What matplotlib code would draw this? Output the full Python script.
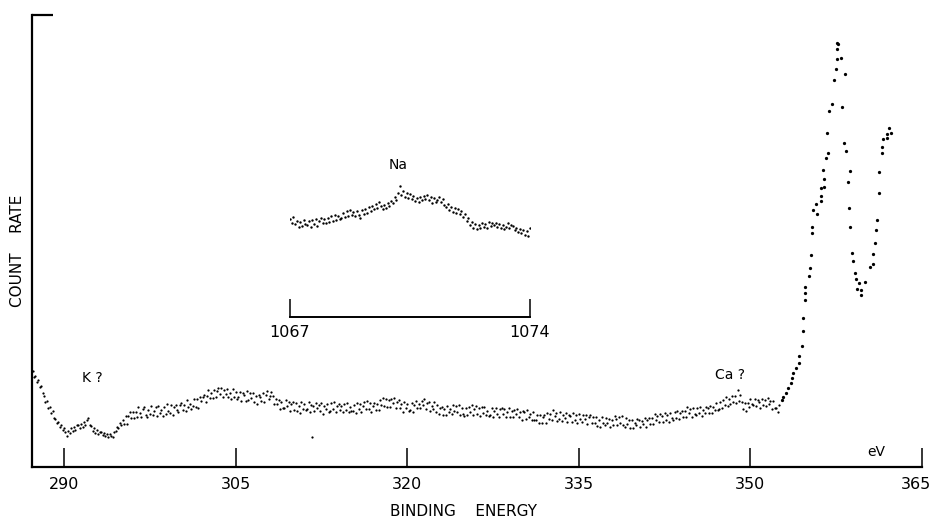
import numpy as np
import matplotlib.pyplot as plt
from matplotlib.transforms import ScaledTranslation

# --- main survey scan: channel grid + counts (arbitrary units) ---
MAIN_START = 287.25
MAIN_STEP = 0.125
MAIN_COUNTS = [
    96, 90, 91, 85, 87, 80, 81, 74,
    71, 65, 66, 59, 60, 54, 56, 49,
    48, 44, 45, 40, 42, 37, 39, 35,
    31, 36, 34, 39, 36, 40, 37, 42,
    42, 39, 43, 40, 45, 42, 47, 49,
    42, 41, 36, 39, 34, 37, 33, 35,
    35, 32, 34, 31, 33, 30, 33, 31,
    30, 35, 36, 40, 39, 44, 42, 47,
    43, 51, 43, 51, 55, 49, 55, 49,
    55, 50, 60, 54, 50, 58, 60, 52,
    50, 57, 53, 61, 52, 56, 60, 51,
    61, 54, 57, 51, 60, 53, 63, 56,
    54, 62, 52, 60, 62, 57, 55, 62,
    64, 57, 62, 56, 67, 60, 63, 58,
    61, 68, 60, 68, 59, 70, 66, 70,
    72, 65, 71, 77, 69, 74, 69, 77,
    70, 76, 79, 73, 79, 70, 77, 73,
    78, 70, 74, 68, 78, 70, 75, 68,
    70, 75, 66, 74, 72, 66, 76, 67,
    74, 69, 74, 65, 71, 63, 72, 70,
    66, 74, 65, 72, 76, 68, 71, 75,
    71, 63, 68, 63, 67, 58, 65, 59,
    59, 67, 61, 65, 56, 63, 65, 57,
    64, 56, 61, 54, 65, 58, 63, 57,
    58, 65, 55, 62, 61, 56, 64, 59,
    62, 56, 64, 53, 61, 58, 63, 55,
    56, 64, 58, 65, 55, 61, 63, 57,
    61, 55, 63, 57, 64, 55, 60, 56,
    56, 62, 54, 64, 58, 63, 55, 61,
    65, 58, 66, 58, 64, 55, 61, 64,
    57, 63, 57, 67, 62, 69, 61, 68,
    60, 67, 60, 68, 64, 69, 59, 65,
    67, 59, 63, 55, 65, 59, 63, 56,
    57, 64, 55, 62, 66, 59, 63, 59,
    66, 62, 68, 58, 64, 65, 56, 61,
    58, 65, 55, 62, 53, 59, 60, 52,
    58, 52, 61, 55, 58, 53, 62, 56,
    61, 55, 62, 52, 59, 53, 51, 59,
    52, 60, 55, 62, 52, 58, 61, 53,
    59, 51, 60, 54, 60, 52, 56, 51,
    52, 59, 50, 56, 59, 53, 50, 58,
    59, 53, 58, 50, 55, 59, 50, 56,
    50, 57, 53, 58, 50, 55, 47, 56,
    55, 48, 57, 50, 53, 47, 55, 47,
    47, 52, 44, 52, 44, 50, 52, 44,
    54, 48, 53, 47, 57, 51, 54, 46,
    48, 55, 46, 52, 49, 54, 45, 52,
    51, 45, 54, 47, 52, 44, 53, 48,
    45, 52, 48, 52, 43, 50, 52, 44,
    50, 44, 50, 41, 47, 40, 50, 44,
    42, 49, 44, 48, 40, 47, 42, 51,
    48, 42, 50, 44, 51, 42, 40, 49,
    43, 47, 39, 47, 39, 44, 42, 48,
    47, 40, 46, 43, 49, 40, 47, 49,
    43, 49, 43, 53, 47, 51, 45, 53,
    51, 45, 54, 47, 52, 45, 54, 49,
    47, 55, 49, 56, 48, 54, 56, 50,
    56, 50, 60, 54, 58, 50, 59, 53,
    52, 59, 54, 60, 51, 57, 54, 60,
    59, 54, 61, 54, 60, 57, 64, 57,
    58, 65, 59, 67, 62, 70, 61, 68,
    63, 71, 65, 71, 64, 77, 66, 72,
    65, 58, 64, 56, 64, 60, 68, 63,
    62, 68, 61, 67, 65, 59, 68, 62,
    67, 61, 69, 63, 66, 58, 66, 59,
    59, 55, 62,
]

# --- edge / peak region, read point by point (not monotonic in energy) ---
PEAK_ENERGY = [
    352.74, 352.88, 353.11, 353.31, 353.52, 353.64, 353.75, 353.99, 354.25, 354.27,
    354.51, 354.62, 354.62, 354.75, 354.77, 354.80, 355.10, 355.24, 355.30, 355.38,
    355.41, 355.47, 355.80, 355.73, 356.17, 356.17, 356.20, 356.46, 356.43, 356.37,
    356.58, 356.81, 356.72, 356.84, 357.11, 357.34, 357.48, 357.55, 357.60, 357.60,
    357.69, 357.93, 358.28, 358.04, 358.21, 358.36, 358.71, 358.53, 358.62, 358.73,
    358.88, 358.97, 359.17, 359.26, 359.52, 359.29, 359.64, 359.69, 359.99, 360.43,
    360.69, 360.72, 360.89, 360.98, 361.09, 361.22, 361.27, 361.48, 361.53, 361.59,
    361.92, 361.92, 362.29, 362.14,
]
PEAK_COUNTS = [
    67, 70, 74, 79, 84, 89, 94, 99, 104, 111,
    121, 136, 149, 167, 174, 180, 191, 199, 212, 234,
    240, 257, 253, 263, 266, 271, 279, 280, 288, 297,
    309, 314, 334, 356, 363, 387, 398, 408, 418, 424,
    423, 409, 393, 360, 324, 316, 296, 285, 259, 240,
    214, 206, 194, 188, 184, 178, 177, 172, 185, 200,
    203, 213, 224, 237, 247, 274, 295, 314, 320, 328,
    329, 333, 334, 339,
]

STRAY_ENERGY = [311.65]
STRAY_COUNTS = [30]

# --- Na inset (1067 - 1074 eV) ---
NA_START = 1067.0
NA_STEP = 0.05
NA_COUNTS = [
    98, 94, 100, 93, 96, 90, 95, 91, 97, 93,
    92, 96, 90, 97, 93, 98, 91, 96, 99, 94,
    98, 94, 99, 95, 101, 96, 102, 97, 101, 98,
    99, 104, 100, 106, 101, 107, 102, 105, 101, 106,
    102, 99, 107, 103, 108, 104, 110, 106, 111, 108,
    113, 109, 115, 111, 108, 112, 109, 114, 111, 116,
    114, 120, 117, 124, 131, 122, 126, 120, 124, 119,
    123, 118, 121, 116, 119, 115, 120, 117, 121, 118,
    122, 117, 120, 114, 119, 115, 117, 120, 115, 118,
    112, 110, 113, 107, 110, 105, 109, 104, 108, 103,
    106, 100, 103, 96, 99, 92, 95, 89, 93, 88,
    92, 89, 94, 90, 93, 89, 95, 91, 94, 92,
    94, 90, 93, 89, 92, 88, 90, 94, 89, 92,
    91, 87, 89, 85, 88, 84, 87, 82, 86, 81,
    89,
]

MAIN_TICKS = [290, 305, 320, 335, 350, 365]
INSET_TICKS = [1067, 1074]

plt.rcParams["font.family"] = "DejaVu Sans"

fig = plt.figure(figsize=(9.32, 5.2), dpi=100)
ax = fig.add_axes([32 / 932, 53 / 520, 890 / 932, 452 / 520])

main_e = MAIN_START + MAIN_STEP * np.arange(len(MAIN_COUNTS))
ax.scatter(main_e, MAIN_COUNTS, s=2.6, c="black", linewidths=0)
ax.scatter(PEAK_ENERGY, PEAK_COUNTS, s=5.5, c="black", linewidths=0)
ax.scatter(STRAY_ENERGY, STRAY_COUNTS, s=2.6, c="black", linewidths=0)

ax.set_xlim(287.2, 365)
ax.set_ylim(0, 452)
for side in ["top", "right"]:
    ax.spines[side].set_visible(False)
for side in ["left", "bottom"]:
    ax.spines[side].set_linewidth(1.6)

ax.set_xticks(MAIN_TICKS)
ax.set_xticklabels([str(t) for t in MAIN_TICKS], fontsize=11.5)
ax.tick_params(axis="x", direction="in", length=14, width=1.1, pad=7)
# last label sits a little left of its tick so it stays on the canvas
last = ax.get_xticklabels()[-1]
last.set_transform(last.get_transform() + ScaledTranslation(-6 / 100, 0, fig.dpi_scale_trans))

# short corner mark at top of the count axis
ax.set_yticks([452])
ax.set_yticklabels([""])
ax.tick_params(axis="y", direction="in", length=15, width=1.6)

ax.set_xlabel("BINDING    ENERGY", fontsize=11)
ax.xaxis.set_label_coords((463 - 32) / 890, (467 - 504) / 452)
ax.set_ylabel("COUNT    RATE", fontsize=11)
ax.yaxis.set_label_coords((25 - 32) / 890, (467 - 251) / 452)

ax.text(292.5, 89, "K ?", fontsize=10, ha="center", va="center")
ax.text(348.2, 92, "Ca ?", fontsize=10, ha="center", va="center")
ax.text(361.0, 15, "eV", fontsize=10, ha="center", va="center")

# inset for Na region
ins = fig.add_axes([290 / 932, 203 / 520, 240 / 932, 157 / 520])
ins.patch.set_alpha(0)
na_e = NA_START + NA_STEP * np.arange(len(NA_COUNTS))
ins.scatter(na_e, NA_COUNTS, s=3.0, c="black", linewidths=0)
ins.set_xlim(1067, 1074)
ins.set_ylim(0, 157)
for side in ["top", "right", "left"]:
    ins.spines[side].set_visible(False)
ins.spines["bottom"].set_linewidth(1.4)
ins.set_xticks(INSET_TICKS)
ins.set_xticklabels([str(t) for t in INSET_TICKS], fontsize=11.5)
ins.tick_params(axis="x", direction="in", length=13, width=1.1, pad=6)
ins.set_yticks([])
ins.text(1070.15, 152, "Na", fontsize=10, ha="center", va="center")

fig.savefig("out.png", dpi=100)
